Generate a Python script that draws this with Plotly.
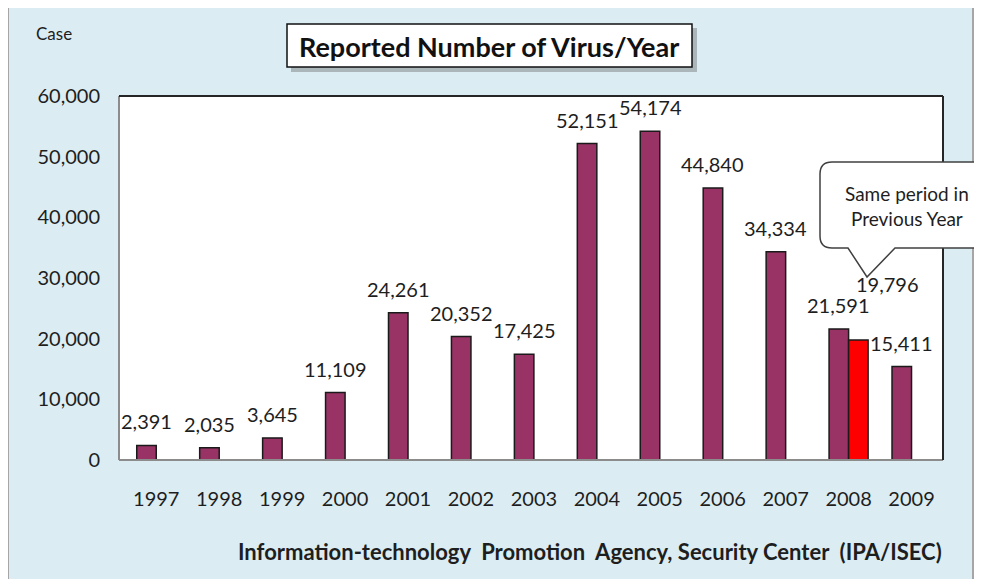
import plotly.graph_objects as go

# ---- data ----
years = ["1997", "1998", "1999", "2000", "2001", "2002", "2003",
         "2004", "2005", "2006", "2007", "2008", "2009"]
reported = [2391, 2035, 3645, 11109, 24261, 20352, 17425,
            52151, 54174, 44840, 34334, 21591, 15411]
prev_year_same_period = [None] * 11 + [19796, None]
y_ticks = [0, 10000, 20000, 30000, 40000, 50000, 60000]

# ---- geometry (page pixels; page body has an 8px margin) ----
OFF = 8
FW, FH = 982 - OFF, 579 - OFF
L, R, T, B = 119, 943, 96, 460          # plot area in page pixels
PW, PH = R - L, B - T


def px(x):
    return (x - L) / PW


def py(y):
    return (B - y) / PH


FONT = "Lato"
TXT = "#1e1e1e"
BARGAP = 0.38
half = (1 - BARGAP) / 4  # offset of each grouped bar center

fig = go.Figure()
fig.add_bar(x=years, y=reported, name="Reported",
            marker=dict(color="#993366", line=dict(color="#1a1a1a", width=1.5)))
fig.add_bar(x=years, y=prev_year_same_period, name="Same period in previous year",
            marker=dict(color="#ff0000", line=dict(color="#1a1a1a", width=1.5)))

annotations = []
for i, v in enumerate(reported):
    annotations.append(dict(x=i - half, y=v, xref="x", yref="y", text=f"{v:,}",
                            showarrow=False, yanchor="middle", yshift=24,
                            font=dict(family=FONT, size=20, color=TXT)))
for i, v in enumerate(prev_year_same_period):
    if v is not None:
        annotations.append(dict(x=i + half, y=v, xref="x", yref="y", text=f"{v:,}",
                                showarrow=False, yanchor="middle", xshift=29, yshift=56,
                                font=dict(family=FONT, size=20, color=TXT)))

annotations += [
    dict(x=px(34), y=py(34), xref="paper", yref="paper", text="Case", showarrow=False,
         xanchor="left", yanchor="middle", font=dict(family=FONT, size=17, color=TXT)),
    dict(x=px(489), y=py(46), xref="paper", yref="paper",
         text="<b>Reported Number of Virus/Year</b>", showarrow=False,
         xanchor="center", yanchor="middle", font=dict(family=FONT, size=27, color="#111")),
    dict(x=px(907), y=py(206), xref="paper", yref="paper",
         text="Same period in<br>Previous Year", showarrow=False,
         xanchor="center", yanchor="middle", font=dict(family=FONT, size=19, color=TXT)),
    dict(x=px(590), y=py(551), xref="paper", yref="paper",
         text="<b>Information-technology&nbsp; Promotion&nbsp; Agency, Security Center&nbsp; (IPA/ISEC)</b>",
         showarrow=False, xanchor="center", yanchor="middle",
         font=dict(family=FONT, size=22, color=TXT)),
]


def callout_path():
    r = 12
    x0, x1, y0, y1 = 820, 1000, 162, 248
    tip = (867, 277)
    base_l, base_r = 848, 895
    d = f"M {px(x0 + r)},{py(y0)} L {px(x1)},{py(y0)} L {px(x1)},{py(y1)} "
    d += f"L {px(base_r)},{py(y1)} L {px(tip[0])},{py(tip[1])} L {px(base_l)},{py(y1)} "
    d += f"L {px(x0 + r)},{py(y1)} Q {px(x0)},{py(y1)} {px(x0)},{py(y1 - r)} "
    d += f"L {px(x0)},{py(y0 + r)} Q {px(x0)},{py(y0)} {px(x0 + r)},{py(y0)} Z"
    return d


shapes = [
    # outer light-blue panel
    dict(type="rect", xref="paper", yref="paper", layer="below",
         x0=px(8), x1=px(973), y0=py(640), y1=py(7),
         fillcolor="#dbedf3", line=dict(color="#a6a6a6", width=2)),
    # plot area
    dict(type="rect", xref="paper", yref="paper", layer="below",
         x0=0, x1=1, y0=0, y1=1, fillcolor="white", line=dict(width=0)),
    # plot borders: left/bottom gray, top/right dark
    dict(type="line", xref="paper", yref="paper", x0=0, x1=0, y0=0, y1=1,
         line=dict(color="#8c8c8c", width=2)),
    dict(type="line", xref="paper", yref="paper", x0=0, x1=1, y0=0, y1=0,
         line=dict(color="#8c8c8c", width=2)),
    dict(type="line", xref="paper", yref="paper", x0=0, x1=1, y0=1, y1=1,
         line=dict(color="#262626", width=2)),
    dict(type="line", xref="paper", yref="paper", x0=1, x1=1, y0=0, y1=1,
         line=dict(color="#262626", width=2)),
    # title box shadow + box
    dict(type="rect", xref="paper", yref="paper",
         x0=px(291), x1=px(697), y0=py(72), y1=py(28),
         fillcolor="rgba(80,80,80,0.35)", line=dict(width=0)),
    dict(type="rect", xref="paper", yref="paper",
         x0=px(287), x1=px(692), y0=py(67), y1=py(24),
         fillcolor="white", line=dict(color="#111", width=1.5)),
    # callout bubble
    dict(type="path", xref="paper", yref="paper", path=callout_path(),
         fillcolor="white", line=dict(color="#404040", width=1.5)),
]

fig.update_layout(
    width=FW, height=FH,
    margin=dict(l=L - OFF, r=FW - (R - OFF), t=T - OFF, b=FH - (B - OFF)),
    paper_bgcolor="white", plot_bgcolor="white",
    barmode="group", bargap=BARGAP, bargroupgap=0,
    showlegend=False,
    annotations=annotations, shapes=shapes,
    xaxis=dict(type="category", showgrid=False, showline=False, zeroline=False,
               ticks="", ticklabelstandoff=25,
               tickfont=dict(family=FONT, size=20, color=TXT)),
    yaxis=dict(range=[0, 60000], tickvals=y_ticks,
               ticktext=[f"{v:,}" for v in y_ticks],
               showgrid=False, showline=False, zeroline=False, ticks="",
               ticklabelstandoff=18,
               tickfont=dict(family=FONT, size=20, color=TXT)),
)

fig.write_html("out.html")
